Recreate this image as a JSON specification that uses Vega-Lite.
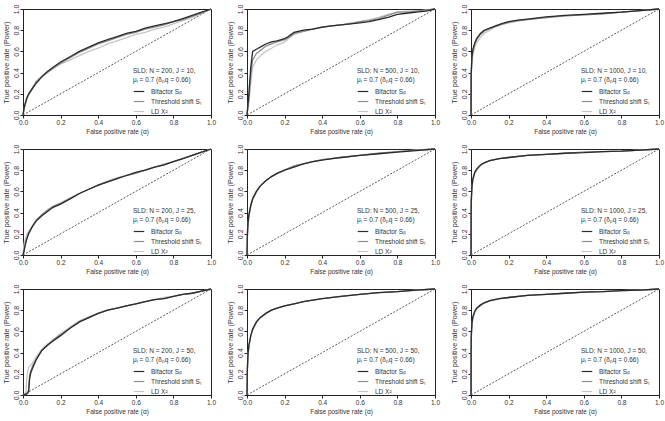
{
"$schema":"https://vega.github.io/schema/vega-lite/v6.json",
"padding":{"left":1,"top":3,"right":0,"bottom":2},
"background":"white",
"config":{
 "font":"Liberation Sans",
 "view":{"stroke":"#222222","strokeWidth":1},
 "axis":{"grid":false,"labelFontSize":6.5,"titleFontSize":6.5,"titleFontWeight":"normal","labelColor":"#333333","titleColor":"#333333","domainColor":"#222222","tickColor":"#222222","tickSize":3,"labelPadding":1,"labelFlush":false,"labelOverlap":false},
 "axisX":{"titlePadding":3},
 "axisY":{"labelAngle":270,"labelAlign":"center","labelBaseline":"bottom","titlePadding":2,"labelFontSize":7,"titleFontSize":7.2},
 "legend":{"orient":"none","legendX":110,"legendY":59,"titleFontSize":6.5,"titleFontWeight":"normal","titleColor":"#333333","titleLineHeight":9,"titlePadding":2,"labelFontSize":6.5,"labelColor":"#333333","symbolType":"stroke","symbolSize":110,"symbolStrokeWidth":1.2,"rowPadding":0,"labelOffset":6,"padding":0}
},
"datasets":{
"diag":[{"x":0,"y":0},{"x":1,"y":1}],
"roc":[
{"p":1,"s":"L","x":0,"y":0},{"p":1,"s":"L","x":0.005,"y":0.04},{"p":1,"s":"L","x":0.01,"y":0.08},{"p":1,"s":"L","x":0.02,"y":0.14},{"p":1,"s":"L","x":0.03,"y":0.19},{"p":1,"s":"L","x":0.05,"y":0.26},{"p":1,"s":"L","x":0.07,"y":0.32},{"p":1,"s":"L","x":0.1,"y":0.37},{"p":1,"s":"L","x":0.13,"y":0.41},{"p":1,"s":"L","x":0.16,"y":0.44},{"p":1,"s":"L","x":0.2,"y":0.48},{"p":1,"s":"L","x":0.25,"y":0.52},{"p":1,"s":"L","x":0.3,"y":0.56},{"p":1,"s":"L","x":0.35,"y":0.6},{"p":1,"s":"L","x":0.4,"y":0.63},{"p":1,"s":"L","x":0.45,"y":0.67},{"p":1,"s":"L","x":0.5,"y":0.7},{"p":1,"s":"L","x":0.55,"y":0.73},{"p":1,"s":"L","x":0.6,"y":0.76},{"p":1,"s":"L","x":0.65,"y":0.78},{"p":1,"s":"L","x":0.7,"y":0.81},{"p":1,"s":"L","x":0.75,"y":0.83},{"p":1,"s":"L","x":0.8,"y":0.86},{"p":1,"s":"L","x":0.85,"y":0.89},{"p":1,"s":"L","x":0.9,"y":0.92},{"p":1,"s":"L","x":0.95,"y":0.96},{"p":1,"s":"L","x":1,"y":1},
{"p":1,"s":"T","x":0,"y":0},{"p":1,"s":"T","x":0.005,"y":0.05},{"p":1,"s":"T","x":0.01,"y":0.09},{"p":1,"s":"T","x":0.02,"y":0.15},{"p":1,"s":"T","x":0.03,"y":0.19},{"p":1,"s":"T","x":0.05,"y":0.25},{"p":1,"s":"T","x":0.07,"y":0.31},{"p":1,"s":"T","x":0.1,"y":0.36},{"p":1,"s":"T","x":0.13,"y":0.4},{"p":1,"s":"T","x":0.16,"y":0.44},{"p":1,"s":"T","x":0.2,"y":0.49},{"p":1,"s":"T","x":0.25,"y":0.54},{"p":1,"s":"T","x":0.3,"y":0.59},{"p":1,"s":"T","x":0.35,"y":0.63},{"p":1,"s":"T","x":0.4,"y":0.67},{"p":1,"s":"T","x":0.45,"y":0.7},{"p":1,"s":"T","x":0.5,"y":0.73},{"p":1,"s":"T","x":0.55,"y":0.76},{"p":1,"s":"T","x":0.6,"y":0.78},{"p":1,"s":"T","x":0.65,"y":0.81},{"p":1,"s":"T","x":0.7,"y":0.83},{"p":1,"s":"T","x":0.75,"y":0.85},{"p":1,"s":"T","x":0.8,"y":0.88},{"p":1,"s":"T","x":0.85,"y":0.9},{"p":1,"s":"T","x":0.9,"y":0.93},{"p":1,"s":"T","x":0.95,"y":0.96},{"p":1,"s":"T","x":1,"y":1},
{"p":1,"s":"B","x":0,"y":0},{"p":1,"s":"B","x":0.005,"y":0.06},{"p":1,"s":"B","x":0.01,"y":0.1},{"p":1,"s":"B","x":0.02,"y":0.16},{"p":1,"s":"B","x":0.03,"y":0.2},{"p":1,"s":"B","x":0.05,"y":0.25},{"p":1,"s":"B","x":0.07,"y":0.3},{"p":1,"s":"B","x":0.1,"y":0.36},{"p":1,"s":"B","x":0.13,"y":0.41},{"p":1,"s":"B","x":0.16,"y":0.45},{"p":1,"s":"B","x":0.2,"y":0.5},{"p":1,"s":"B","x":0.25,"y":0.55},{"p":1,"s":"B","x":0.3,"y":0.6},{"p":1,"s":"B","x":0.35,"y":0.64},{"p":1,"s":"B","x":0.4,"y":0.68},{"p":1,"s":"B","x":0.45,"y":0.71},{"p":1,"s":"B","x":0.5,"y":0.74},{"p":1,"s":"B","x":0.55,"y":0.77},{"p":1,"s":"B","x":0.6,"y":0.79},{"p":1,"s":"B","x":0.65,"y":0.82},{"p":1,"s":"B","x":0.7,"y":0.84},{"p":1,"s":"B","x":0.75,"y":0.86},{"p":1,"s":"B","x":0.8,"y":0.88},{"p":1,"s":"B","x":0.85,"y":0.91},{"p":1,"s":"B","x":0.9,"y":0.94},{"p":1,"s":"B","x":0.95,"y":0.97},{"p":1,"s":"B","x":1,"y":1},

{"p":2,"s":"L","x":0,"y":0},{"p":2,"s":"L","x":0.01,"y":0.12},{"p":2,"s":"L","x":0.02,"y":0.3},{"p":2,"s":"L","x":0.03,"y":0.45},{"p":2,"s":"L","x":0.05,"y":0.52},{"p":2,"s":"L","x":0.08,"y":0.57},{"p":2,"s":"L","x":0.1,"y":0.6},{"p":2,"s":"L","x":0.13,"y":0.63},{"p":2,"s":"L","x":0.16,"y":0.66},{"p":2,"s":"L","x":0.2,"y":0.69},{"p":2,"s":"L","x":0.22,"y":0.72},{"p":2,"s":"L","x":0.25,"y":0.76},{"p":2,"s":"L","x":0.3,"y":0.79},{"p":2,"s":"L","x":0.35,"y":0.81},{"p":2,"s":"L","x":0.4,"y":0.83},{"p":2,"s":"L","x":0.45,"y":0.84},{"p":2,"s":"L","x":0.5,"y":0.85},{"p":2,"s":"L","x":0.55,"y":0.87},{"p":2,"s":"L","x":0.6,"y":0.88},{"p":2,"s":"L","x":0.65,"y":0.9},{"p":2,"s":"L","x":0.7,"y":0.92},{"p":2,"s":"L","x":0.75,"y":0.95},{"p":2,"s":"L","x":0.8,"y":0.97},{"p":2,"s":"L","x":0.85,"y":0.98},{"p":2,"s":"L","x":0.9,"y":0.98},{"p":2,"s":"L","x":0.95,"y":0.99},{"p":2,"s":"L","x":1,"y":1},
{"p":2,"s":"T","x":0,"y":0},{"p":2,"s":"T","x":0.01,"y":0.15},{"p":2,"s":"T","x":0.02,"y":0.38},{"p":2,"s":"T","x":0.03,"y":0.52},{"p":2,"s":"T","x":0.05,"y":0.58},{"p":2,"s":"T","x":0.08,"y":0.62},{"p":2,"s":"T","x":0.1,"y":0.65},{"p":2,"s":"T","x":0.13,"y":0.67},{"p":2,"s":"T","x":0.16,"y":0.69},{"p":2,"s":"T","x":0.2,"y":0.71},{"p":2,"s":"T","x":0.22,"y":0.73},{"p":2,"s":"T","x":0.25,"y":0.77},{"p":2,"s":"T","x":0.3,"y":0.79},{"p":2,"s":"T","x":0.35,"y":0.81},{"p":2,"s":"T","x":0.4,"y":0.83},{"p":2,"s":"T","x":0.45,"y":0.84},{"p":2,"s":"T","x":0.5,"y":0.85},{"p":2,"s":"T","x":0.55,"y":0.86},{"p":2,"s":"T","x":0.6,"y":0.88},{"p":2,"s":"T","x":0.65,"y":0.89},{"p":2,"s":"T","x":0.7,"y":0.91},{"p":2,"s":"T","x":0.75,"y":0.94},{"p":2,"s":"T","x":0.8,"y":0.97},{"p":2,"s":"T","x":0.85,"y":0.97},{"p":2,"s":"T","x":0.9,"y":0.98},{"p":2,"s":"T","x":0.95,"y":0.99},{"p":2,"s":"T","x":1,"y":1},
{"p":2,"s":"B","x":0,"y":0},{"p":2,"s":"B","x":0.01,"y":0.2},{"p":2,"s":"B","x":0.02,"y":0.45},{"p":2,"s":"B","x":0.03,"y":0.6},{"p":2,"s":"B","x":0.05,"y":0.62},{"p":2,"s":"B","x":0.08,"y":0.65},{"p":2,"s":"B","x":0.1,"y":0.67},{"p":2,"s":"B","x":0.13,"y":0.69},{"p":2,"s":"B","x":0.16,"y":0.7},{"p":2,"s":"B","x":0.2,"y":0.72},{"p":2,"s":"B","x":0.22,"y":0.74},{"p":2,"s":"B","x":0.25,"y":0.78},{"p":2,"s":"B","x":0.3,"y":0.8},{"p":2,"s":"B","x":0.35,"y":0.81},{"p":2,"s":"B","x":0.4,"y":0.83},{"p":2,"s":"B","x":0.45,"y":0.84},{"p":2,"s":"B","x":0.5,"y":0.85},{"p":2,"s":"B","x":0.55,"y":0.86},{"p":2,"s":"B","x":0.6,"y":0.87},{"p":2,"s":"B","x":0.65,"y":0.88},{"p":2,"s":"B","x":0.7,"y":0.9},{"p":2,"s":"B","x":0.75,"y":0.92},{"p":2,"s":"B","x":0.8,"y":0.95},{"p":2,"s":"B","x":0.85,"y":0.96},{"p":2,"s":"B","x":0.9,"y":0.97},{"p":2,"s":"B","x":0.95,"y":0.98},{"p":2,"s":"B","x":1,"y":1},

{"p":3,"s":"L","x":0,"y":0},{"p":3,"s":"L","x":0.001,"y":0.35},{"p":3,"s":"L","x":0.005,"y":0.5},{"p":3,"s":"L","x":0.01,"y":0.57},{"p":3,"s":"L","x":0.02,"y":0.64},{"p":3,"s":"L","x":0.03,"y":0.68},{"p":3,"s":"L","x":0.05,"y":0.73},{"p":3,"s":"L","x":0.07,"y":0.77},{"p":3,"s":"L","x":0.1,"y":0.8},{"p":3,"s":"L","x":0.13,"y":0.83},{"p":3,"s":"L","x":0.16,"y":0.85},{"p":3,"s":"L","x":0.2,"y":0.87},{"p":3,"s":"L","x":0.25,"y":0.885},{"p":3,"s":"L","x":0.3,"y":0.9},{"p":3,"s":"L","x":0.4,"y":0.92},{"p":3,"s":"L","x":0.5,"y":0.935},{"p":3,"s":"L","x":0.6,"y":0.945},{"p":3,"s":"L","x":0.7,"y":0.955},{"p":3,"s":"L","x":0.8,"y":0.97},{"p":3,"s":"L","x":0.9,"y":0.985},{"p":3,"s":"L","x":1,"y":1},
{"p":3,"s":"T","x":0,"y":0},{"p":3,"s":"T","x":0.001,"y":0.38},{"p":3,"s":"T","x":0.005,"y":0.53},{"p":3,"s":"T","x":0.01,"y":0.6},{"p":3,"s":"T","x":0.02,"y":0.67},{"p":3,"s":"T","x":0.03,"y":0.71},{"p":3,"s":"T","x":0.05,"y":0.76},{"p":3,"s":"T","x":0.07,"y":0.79},{"p":3,"s":"T","x":0.1,"y":0.815},{"p":3,"s":"T","x":0.13,"y":0.835},{"p":3,"s":"T","x":0.16,"y":0.855},{"p":3,"s":"T","x":0.2,"y":0.875},{"p":3,"s":"T","x":0.25,"y":0.89},{"p":3,"s":"T","x":0.3,"y":0.9},{"p":3,"s":"T","x":0.4,"y":0.92},{"p":3,"s":"T","x":0.5,"y":0.935},{"p":3,"s":"T","x":0.6,"y":0.945},{"p":3,"s":"T","x":0.7,"y":0.955},{"p":3,"s":"T","x":0.8,"y":0.97},{"p":3,"s":"T","x":0.9,"y":0.985},{"p":3,"s":"T","x":1,"y":1},
{"p":3,"s":"B","x":0,"y":0},{"p":3,"s":"B","x":0.001,"y":0.4},{"p":3,"s":"B","x":0.005,"y":0.55},{"p":3,"s":"B","x":0.01,"y":0.62},{"p":3,"s":"B","x":0.02,"y":0.68},{"p":3,"s":"B","x":0.03,"y":0.72},{"p":3,"s":"B","x":0.05,"y":0.77},{"p":3,"s":"B","x":0.07,"y":0.8},{"p":3,"s":"B","x":0.1,"y":0.82},{"p":3,"s":"B","x":0.13,"y":0.84},{"p":3,"s":"B","x":0.16,"y":0.86},{"p":3,"s":"B","x":0.2,"y":0.88},{"p":3,"s":"B","x":0.25,"y":0.895},{"p":3,"s":"B","x":0.3,"y":0.905},{"p":3,"s":"B","x":0.4,"y":0.925},{"p":3,"s":"B","x":0.5,"y":0.94},{"p":3,"s":"B","x":0.6,"y":0.95},{"p":3,"s":"B","x":0.7,"y":0.96},{"p":3,"s":"B","x":0.8,"y":0.97},{"p":3,"s":"B","x":0.9,"y":0.985},{"p":3,"s":"B","x":1,"y":1},

{"p":4,"s":"L","x":0,"y":0},{"p":4,"s":"L","x":0.005,"y":0.1},{"p":4,"s":"L","x":0.01,"y":0.14},{"p":4,"s":"L","x":0.02,"y":0.19},{"p":4,"s":"L","x":0.03,"y":0.22},{"p":4,"s":"L","x":0.05,"y":0.27},{"p":4,"s":"L","x":0.07,"y":0.32},{"p":4,"s":"L","x":0.1,"y":0.38},{"p":4,"s":"L","x":0.13,"y":0.43},{"p":4,"s":"L","x":0.16,"y":0.46},{"p":4,"s":"L","x":0.2,"y":0.49},{"p":4,"s":"L","x":0.25,"y":0.54},{"p":4,"s":"L","x":0.3,"y":0.58},{"p":4,"s":"L","x":0.35,"y":0.62},{"p":4,"s":"L","x":0.4,"y":0.66},{"p":4,"s":"L","x":0.45,"y":0.7},{"p":4,"s":"L","x":0.5,"y":0.73},{"p":4,"s":"L","x":0.55,"y":0.75},{"p":4,"s":"L","x":0.6,"y":0.78},{"p":4,"s":"L","x":0.65,"y":0.8},{"p":4,"s":"L","x":0.7,"y":0.83},{"p":4,"s":"L","x":0.75,"y":0.86},{"p":4,"s":"L","x":0.8,"y":0.88},{"p":4,"s":"L","x":0.85,"y":0.91},{"p":4,"s":"L","x":0.9,"y":0.94},{"p":4,"s":"L","x":0.95,"y":0.97},{"p":4,"s":"L","x":1,"y":1},
{"p":4,"s":"T","x":0,"y":0},{"p":4,"s":"T","x":0.005,"y":0.04},{"p":4,"s":"T","x":0.01,"y":0.09},{"p":4,"s":"T","x":0.02,"y":0.16},{"p":4,"s":"T","x":0.03,"y":0.21},{"p":4,"s":"T","x":0.05,"y":0.27},{"p":4,"s":"T","x":0.07,"y":0.33},{"p":4,"s":"T","x":0.1,"y":0.38},{"p":4,"s":"T","x":0.13,"y":0.42},{"p":4,"s":"T","x":0.16,"y":0.46},{"p":4,"s":"T","x":0.2,"y":0.49},{"p":4,"s":"T","x":0.25,"y":0.53},{"p":4,"s":"T","x":0.3,"y":0.58},{"p":4,"s":"T","x":0.35,"y":0.62},{"p":4,"s":"T","x":0.4,"y":0.66},{"p":4,"s":"T","x":0.45,"y":0.69},{"p":4,"s":"T","x":0.5,"y":0.72},{"p":4,"s":"T","x":0.55,"y":0.75},{"p":4,"s":"T","x":0.6,"y":0.77},{"p":4,"s":"T","x":0.65,"y":0.8},{"p":4,"s":"T","x":0.7,"y":0.83},{"p":4,"s":"T","x":0.75,"y":0.85},{"p":4,"s":"T","x":0.8,"y":0.88},{"p":4,"s":"T","x":0.85,"y":0.91},{"p":4,"s":"T","x":0.9,"y":0.94},{"p":4,"s":"T","x":0.95,"y":0.97},{"p":4,"s":"T","x":1,"y":1},
{"p":4,"s":"B","x":0,"y":0},{"p":4,"s":"B","x":0.005,"y":0.03},{"p":4,"s":"B","x":0.01,"y":0.08},{"p":4,"s":"B","x":0.02,"y":0.15},{"p":4,"s":"B","x":0.03,"y":0.2},{"p":4,"s":"B","x":0.05,"y":0.27},{"p":4,"s":"B","x":0.07,"y":0.32},{"p":4,"s":"B","x":0.1,"y":0.37},{"p":4,"s":"B","x":0.13,"y":0.41},{"p":4,"s":"B","x":0.16,"y":0.45},{"p":4,"s":"B","x":0.2,"y":0.48},{"p":4,"s":"B","x":0.25,"y":0.53},{"p":4,"s":"B","x":0.3,"y":0.58},{"p":4,"s":"B","x":0.35,"y":0.62},{"p":4,"s":"B","x":0.4,"y":0.66},{"p":4,"s":"B","x":0.45,"y":0.69},{"p":4,"s":"B","x":0.5,"y":0.72},{"p":4,"s":"B","x":0.55,"y":0.75},{"p":4,"s":"B","x":0.6,"y":0.78},{"p":4,"s":"B","x":0.65,"y":0.8},{"p":4,"s":"B","x":0.7,"y":0.83},{"p":4,"s":"B","x":0.75,"y":0.85},{"p":4,"s":"B","x":0.8,"y":0.88},{"p":4,"s":"B","x":0.85,"y":0.91},{"p":4,"s":"B","x":0.9,"y":0.94},{"p":4,"s":"B","x":0.95,"y":0.97},{"p":4,"s":"B","x":1,"y":1},

{"p":5,"s":"L","x":0,"y":0},{"p":5,"s":"L","x":0.002,"y":0.15},{"p":5,"s":"L","x":0.005,"y":0.26},{"p":5,"s":"L","x":0.01,"y":0.35},{"p":5,"s":"L","x":0.02,"y":0.45},{"p":5,"s":"L","x":0.03,"y":0.52},{"p":5,"s":"L","x":0.05,"y":0.59},{"p":5,"s":"L","x":0.07,"y":0.65},{"p":5,"s":"L","x":0.1,"y":0.7},{"p":5,"s":"L","x":0.13,"y":0.74},{"p":5,"s":"L","x":0.16,"y":0.77},{"p":5,"s":"L","x":0.2,"y":0.8},{"p":5,"s":"L","x":0.25,"y":0.84},{"p":5,"s":"L","x":0.3,"y":0.86},{"p":5,"s":"L","x":0.35,"y":0.88},{"p":5,"s":"L","x":0.4,"y":0.9},{"p":5,"s":"L","x":0.5,"y":0.92},{"p":5,"s":"L","x":0.6,"y":0.94},{"p":5,"s":"L","x":0.7,"y":0.96},{"p":5,"s":"L","x":0.8,"y":0.975},{"p":5,"s":"L","x":0.9,"y":0.99},{"p":5,"s":"L","x":1,"y":1},
{"p":5,"s":"T","x":0,"y":0},{"p":5,"s":"T","x":0.002,"y":0.18},{"p":5,"s":"T","x":0.005,"y":0.28},{"p":5,"s":"T","x":0.01,"y":0.37},{"p":5,"s":"T","x":0.02,"y":0.46},{"p":5,"s":"T","x":0.03,"y":0.53},{"p":5,"s":"T","x":0.05,"y":0.6},{"p":5,"s":"T","x":0.07,"y":0.65},{"p":5,"s":"T","x":0.1,"y":0.7},{"p":5,"s":"T","x":0.13,"y":0.74},{"p":5,"s":"T","x":0.16,"y":0.77},{"p":5,"s":"T","x":0.2,"y":0.8},{"p":5,"s":"T","x":0.25,"y":0.84},{"p":5,"s":"T","x":0.3,"y":0.86},{"p":5,"s":"T","x":0.35,"y":0.88},{"p":5,"s":"T","x":0.4,"y":0.9},{"p":5,"s":"T","x":0.5,"y":0.92},{"p":5,"s":"T","x":0.6,"y":0.94},{"p":5,"s":"T","x":0.7,"y":0.96},{"p":5,"s":"T","x":0.8,"y":0.975},{"p":5,"s":"T","x":0.9,"y":0.99},{"p":5,"s":"T","x":1,"y":1},
{"p":5,"s":"B","x":0,"y":0},{"p":5,"s":"B","x":0.002,"y":0.2},{"p":5,"s":"B","x":0.005,"y":0.3},{"p":5,"s":"B","x":0.01,"y":0.38},{"p":5,"s":"B","x":0.02,"y":0.47},{"p":5,"s":"B","x":0.03,"y":0.53},{"p":5,"s":"B","x":0.05,"y":0.6},{"p":5,"s":"B","x":0.07,"y":0.65},{"p":5,"s":"B","x":0.1,"y":0.7},{"p":5,"s":"B","x":0.13,"y":0.74},{"p":5,"s":"B","x":0.16,"y":0.77},{"p":5,"s":"B","x":0.2,"y":0.8},{"p":5,"s":"B","x":0.25,"y":0.83},{"p":5,"s":"B","x":0.3,"y":0.86},{"p":5,"s":"B","x":0.35,"y":0.88},{"p":5,"s":"B","x":0.4,"y":0.895},{"p":5,"s":"B","x":0.5,"y":0.92},{"p":5,"s":"B","x":0.6,"y":0.94},{"p":5,"s":"B","x":0.7,"y":0.955},{"p":5,"s":"B","x":0.8,"y":0.97},{"p":5,"s":"B","x":0.9,"y":0.985},{"p":5,"s":"B","x":1,"y":1},

{"p":6,"s":"L","x":0,"y":0},{"p":6,"s":"L","x":0.001,"y":0.45},{"p":6,"s":"L","x":0.005,"y":0.62},{"p":6,"s":"L","x":0.01,"y":0.7},{"p":6,"s":"L","x":0.02,"y":0.77},{"p":6,"s":"L","x":0.03,"y":0.8},{"p":6,"s":"L","x":0.05,"y":0.84},{"p":6,"s":"L","x":0.07,"y":0.87},{"p":6,"s":"L","x":0.1,"y":0.89},{"p":6,"s":"L","x":0.15,"y":0.91},{"p":6,"s":"L","x":0.2,"y":0.92},{"p":6,"s":"L","x":0.3,"y":0.94},{"p":6,"s":"L","x":0.4,"y":0.95},{"p":6,"s":"L","x":0.5,"y":0.96},{"p":6,"s":"L","x":0.6,"y":0.97},{"p":6,"s":"L","x":0.7,"y":0.975},{"p":6,"s":"L","x":0.8,"y":0.98},{"p":6,"s":"L","x":0.9,"y":0.99},{"p":6,"s":"L","x":1,"y":1},
{"p":6,"s":"T","x":0,"y":0},{"p":6,"s":"T","x":0.001,"y":0.48},{"p":6,"s":"T","x":0.005,"y":0.64},{"p":6,"s":"T","x":0.01,"y":0.71},{"p":6,"s":"T","x":0.02,"y":0.775},{"p":6,"s":"T","x":0.03,"y":0.805},{"p":6,"s":"T","x":0.05,"y":0.845},{"p":6,"s":"T","x":0.07,"y":0.87},{"p":6,"s":"T","x":0.1,"y":0.89},{"p":6,"s":"T","x":0.15,"y":0.91},{"p":6,"s":"T","x":0.2,"y":0.92},{"p":6,"s":"T","x":0.3,"y":0.94},{"p":6,"s":"T","x":0.4,"y":0.95},{"p":6,"s":"T","x":0.5,"y":0.96},{"p":6,"s":"T","x":0.6,"y":0.97},{"p":6,"s":"T","x":0.7,"y":0.975},{"p":6,"s":"T","x":0.8,"y":0.98},{"p":6,"s":"T","x":0.9,"y":0.99},{"p":6,"s":"T","x":1,"y":1},
{"p":6,"s":"B","x":0,"y":0},{"p":6,"s":"B","x":0.001,"y":0.5},{"p":6,"s":"B","x":0.005,"y":0.65},{"p":6,"s":"B","x":0.01,"y":0.72},{"p":6,"s":"B","x":0.02,"y":0.78},{"p":6,"s":"B","x":0.03,"y":0.81},{"p":6,"s":"B","x":0.05,"y":0.85},{"p":6,"s":"B","x":0.07,"y":0.87},{"p":6,"s":"B","x":0.1,"y":0.89},{"p":6,"s":"B","x":0.15,"y":0.91},{"p":6,"s":"B","x":0.2,"y":0.92},{"p":6,"s":"B","x":0.3,"y":0.94},{"p":6,"s":"B","x":0.4,"y":0.95},{"p":6,"s":"B","x":0.5,"y":0.96},{"p":6,"s":"B","x":0.6,"y":0.965},{"p":6,"s":"B","x":0.7,"y":0.975},{"p":6,"s":"B","x":0.8,"y":0.98},{"p":6,"s":"B","x":0.9,"y":0.99},{"p":6,"s":"B","x":1,"y":1},

{"p":7,"s":"L","x":0,"y":0},{"p":7,"s":"L","x":0.015,"y":0.02},{"p":7,"s":"L","x":0.02,"y":0.15},{"p":7,"s":"L","x":0.025,"y":0.22},{"p":7,"s":"L","x":0.03,"y":0.26},{"p":7,"s":"L","x":0.04,"y":0.28},{"p":7,"s":"L","x":0.05,"y":0.3},{"p":7,"s":"L","x":0.07,"y":0.36},{"p":7,"s":"L","x":0.1,"y":0.43},{"p":7,"s":"L","x":0.13,"y":0.48},{"p":7,"s":"L","x":0.16,"y":0.52},{"p":7,"s":"L","x":0.2,"y":0.58},{"p":7,"s":"L","x":0.25,"y":0.64},{"p":7,"s":"L","x":0.3,"y":0.7},{"p":7,"s":"L","x":0.35,"y":0.74},{"p":7,"s":"L","x":0.4,"y":0.77},{"p":7,"s":"L","x":0.45,"y":0.8},{"p":7,"s":"L","x":0.5,"y":0.82},{"p":7,"s":"L","x":0.55,"y":0.84},{"p":7,"s":"L","x":0.6,"y":0.86},{"p":7,"s":"L","x":0.65,"y":0.88},{"p":7,"s":"L","x":0.7,"y":0.9},{"p":7,"s":"L","x":0.75,"y":0.92},{"p":7,"s":"L","x":0.8,"y":0.93},{"p":7,"s":"L","x":0.85,"y":0.95},{"p":7,"s":"L","x":0.9,"y":0.96},{"p":7,"s":"L","x":0.95,"y":0.98},{"p":7,"s":"L","x":1,"y":1},
{"p":7,"s":"T","x":0,"y":0},{"p":7,"s":"T","x":0.02,"y":0.01},{"p":7,"s":"T","x":0.03,"y":0.05},{"p":7,"s":"T","x":0.035,"y":0.18},{"p":7,"s":"T","x":0.04,"y":0.22},{"p":7,"s":"T","x":0.05,"y":0.27},{"p":7,"s":"T","x":0.07,"y":0.34},{"p":7,"s":"T","x":0.1,"y":0.42},{"p":7,"s":"T","x":0.13,"y":0.47},{"p":7,"s":"T","x":0.16,"y":0.52},{"p":7,"s":"T","x":0.2,"y":0.57},{"p":7,"s":"T","x":0.25,"y":0.63},{"p":7,"s":"T","x":0.3,"y":0.69},{"p":7,"s":"T","x":0.35,"y":0.73},{"p":7,"s":"T","x":0.4,"y":0.77},{"p":7,"s":"T","x":0.45,"y":0.8},{"p":7,"s":"T","x":0.5,"y":0.82},{"p":7,"s":"T","x":0.55,"y":0.84},{"p":7,"s":"T","x":0.6,"y":0.86},{"p":7,"s":"T","x":0.65,"y":0.88},{"p":7,"s":"T","x":0.7,"y":0.9},{"p":7,"s":"T","x":0.75,"y":0.91},{"p":7,"s":"T","x":0.8,"y":0.93},{"p":7,"s":"T","x":0.85,"y":0.95},{"p":7,"s":"T","x":0.9,"y":0.96},{"p":7,"s":"T","x":0.95,"y":0.98},{"p":7,"s":"T","x":1,"y":1},
{"p":7,"s":"B","x":0,"y":0},{"p":7,"s":"B","x":0.02,"y":0.01},{"p":7,"s":"B","x":0.03,"y":0.03},{"p":7,"s":"B","x":0.035,"y":0.15},{"p":7,"s":"B","x":0.04,"y":0.2},{"p":7,"s":"B","x":0.05,"y":0.25},{"p":7,"s":"B","x":0.07,"y":0.33},{"p":7,"s":"B","x":0.1,"y":0.42},{"p":7,"s":"B","x":0.13,"y":0.47},{"p":7,"s":"B","x":0.16,"y":0.51},{"p":7,"s":"B","x":0.2,"y":0.56},{"p":7,"s":"B","x":0.25,"y":0.63},{"p":7,"s":"B","x":0.3,"y":0.69},{"p":7,"s":"B","x":0.35,"y":0.73},{"p":7,"s":"B","x":0.4,"y":0.77},{"p":7,"s":"B","x":0.45,"y":0.8},{"p":7,"s":"B","x":0.5,"y":0.82},{"p":7,"s":"B","x":0.55,"y":0.84},{"p":7,"s":"B","x":0.6,"y":0.86},{"p":7,"s":"B","x":0.65,"y":0.88},{"p":7,"s":"B","x":0.7,"y":0.9},{"p":7,"s":"B","x":0.75,"y":0.91},{"p":7,"s":"B","x":0.8,"y":0.93},{"p":7,"s":"B","x":0.85,"y":0.95},{"p":7,"s":"B","x":0.9,"y":0.96},{"p":7,"s":"B","x":0.95,"y":0.98},{"p":7,"s":"B","x":1,"y":1},

{"p":8,"s":"L","x":0,"y":0},{"p":8,"s":"L","x":0.002,"y":0.22},{"p":8,"s":"L","x":0.005,"y":0.35},{"p":8,"s":"L","x":0.01,"y":0.45},{"p":8,"s":"L","x":0.02,"y":0.55},{"p":8,"s":"L","x":0.03,"y":0.61},{"p":8,"s":"L","x":0.05,"y":0.68},{"p":8,"s":"L","x":0.07,"y":0.73},{"p":8,"s":"L","x":0.1,"y":0.77},{"p":8,"s":"L","x":0.13,"y":0.8},{"p":8,"s":"L","x":0.16,"y":0.82},{"p":8,"s":"L","x":0.2,"y":0.84},{"p":8,"s":"L","x":0.25,"y":0.86},{"p":8,"s":"L","x":0.3,"y":0.88},{"p":8,"s":"L","x":0.4,"y":0.91},{"p":8,"s":"L","x":0.5,"y":0.93},{"p":8,"s":"L","x":0.6,"y":0.95},{"p":8,"s":"L","x":0.7,"y":0.965},{"p":8,"s":"L","x":0.8,"y":0.975},{"p":8,"s":"L","x":0.9,"y":0.99},{"p":8,"s":"L","x":1,"y":1},
{"p":8,"s":"T","x":0,"y":0},{"p":8,"s":"T","x":0.002,"y":0.24},{"p":8,"s":"T","x":0.005,"y":0.37},{"p":8,"s":"T","x":0.01,"y":0.46},{"p":8,"s":"T","x":0.02,"y":0.56},{"p":8,"s":"T","x":0.03,"y":0.62},{"p":8,"s":"T","x":0.05,"y":0.69},{"p":8,"s":"T","x":0.07,"y":0.73},{"p":8,"s":"T","x":0.1,"y":0.77},{"p":8,"s":"T","x":0.13,"y":0.8},{"p":8,"s":"T","x":0.16,"y":0.82},{"p":8,"s":"T","x":0.2,"y":0.84},{"p":8,"s":"T","x":0.25,"y":0.86},{"p":8,"s":"T","x":0.3,"y":0.88},{"p":8,"s":"T","x":0.4,"y":0.91},{"p":8,"s":"T","x":0.5,"y":0.93},{"p":8,"s":"T","x":0.6,"y":0.95},{"p":8,"s":"T","x":0.7,"y":0.965},{"p":8,"s":"T","x":0.8,"y":0.975},{"p":8,"s":"T","x":0.9,"y":0.99},{"p":8,"s":"T","x":1,"y":1},
{"p":8,"s":"B","x":0,"y":0},{"p":8,"s":"B","x":0.002,"y":0.25},{"p":8,"s":"B","x":0.005,"y":0.38},{"p":8,"s":"B","x":0.01,"y":0.47},{"p":8,"s":"B","x":0.02,"y":0.56},{"p":8,"s":"B","x":0.03,"y":0.62},{"p":8,"s":"B","x":0.05,"y":0.69},{"p":8,"s":"B","x":0.07,"y":0.73},{"p":8,"s":"B","x":0.1,"y":0.77},{"p":8,"s":"B","x":0.13,"y":0.8},{"p":8,"s":"B","x":0.16,"y":0.82},{"p":8,"s":"B","x":0.2,"y":0.84},{"p":8,"s":"B","x":0.25,"y":0.86},{"p":8,"s":"B","x":0.3,"y":0.88},{"p":8,"s":"B","x":0.4,"y":0.91},{"p":8,"s":"B","x":0.5,"y":0.93},{"p":8,"s":"B","x":0.6,"y":0.95},{"p":8,"s":"B","x":0.7,"y":0.965},{"p":8,"s":"B","x":0.8,"y":0.975},{"p":8,"s":"B","x":0.9,"y":0.99},{"p":8,"s":"B","x":1,"y":1},

{"p":9,"s":"L","x":0,"y":0},{"p":9,"s":"L","x":0.001,"y":0.5},{"p":9,"s":"L","x":0.005,"y":0.65},{"p":9,"s":"L","x":0.01,"y":0.72},{"p":9,"s":"L","x":0.02,"y":0.78},{"p":9,"s":"L","x":0.03,"y":0.81},{"p":9,"s":"L","x":0.05,"y":0.84},{"p":9,"s":"L","x":0.07,"y":0.865},{"p":9,"s":"L","x":0.1,"y":0.885},{"p":9,"s":"L","x":0.15,"y":0.905},{"p":9,"s":"L","x":0.2,"y":0.92},{"p":9,"s":"L","x":0.3,"y":0.94},{"p":9,"s":"L","x":0.4,"y":0.95},{"p":9,"s":"L","x":0.5,"y":0.96},{"p":9,"s":"L","x":0.6,"y":0.97},{"p":9,"s":"L","x":0.7,"y":0.975},{"p":9,"s":"L","x":0.8,"y":0.985},{"p":9,"s":"L","x":0.9,"y":0.99},{"p":9,"s":"L","x":1,"y":1},
{"p":9,"s":"T","x":0,"y":0},{"p":9,"s":"T","x":0.001,"y":0.53},{"p":9,"s":"T","x":0.005,"y":0.67},{"p":9,"s":"T","x":0.01,"y":0.73},{"p":9,"s":"T","x":0.02,"y":0.785},{"p":9,"s":"T","x":0.03,"y":0.815},{"p":9,"s":"T","x":0.05,"y":0.845},{"p":9,"s":"T","x":0.07,"y":0.87},{"p":9,"s":"T","x":0.1,"y":0.89},{"p":9,"s":"T","x":0.15,"y":0.91},{"p":9,"s":"T","x":0.2,"y":0.92},{"p":9,"s":"T","x":0.3,"y":0.94},{"p":9,"s":"T","x":0.4,"y":0.95},{"p":9,"s":"T","x":0.5,"y":0.96},{"p":9,"s":"T","x":0.6,"y":0.97},{"p":9,"s":"T","x":0.7,"y":0.975},{"p":9,"s":"T","x":0.8,"y":0.985},{"p":9,"s":"T","x":0.9,"y":0.99},{"p":9,"s":"T","x":1,"y":1},
{"p":9,"s":"B","x":0,"y":0},{"p":9,"s":"B","x":0.001,"y":0.55},{"p":9,"s":"B","x":0.005,"y":0.68},{"p":9,"s":"B","x":0.01,"y":0.74},{"p":9,"s":"B","x":0.02,"y":0.79},{"p":9,"s":"B","x":0.03,"y":0.82},{"p":9,"s":"B","x":0.05,"y":0.85},{"p":9,"s":"B","x":0.07,"y":0.87},{"p":9,"s":"B","x":0.1,"y":0.89},{"p":9,"s":"B","x":0.15,"y":0.91},{"p":9,"s":"B","x":0.2,"y":0.92},{"p":9,"s":"B","x":0.3,"y":0.94},{"p":9,"s":"B","x":0.4,"y":0.95},{"p":9,"s":"B","x":0.5,"y":0.96},{"p":9,"s":"B","x":0.6,"y":0.97},{"p":9,"s":"B","x":0.7,"y":0.975},{"p":9,"s":"B","x":0.8,"y":0.985},{"p":9,"s":"B","x":0.9,"y":0.99},{"p":9,"s":"B","x":1,"y":1}
]},
"resolve":{"scale":{"color":"independent"},"legend":{"color":"independent"}},
"spacing":7,
"vconcat":[
{"spacing":8,"resolve":{"scale":{"color":"independent"},"legend":{"color":"independent"}},"hconcat":[
{"width":188,"height":106,"layer":[
{"data":{"name":"diag"},"mark":{"type":"line","color":"#333333","strokeWidth":0.8,"strokeDash":[2,1.5]},"encoding":{"x":{"field":"x","type":"quantitative","scale":{"domain":[0,1]},"title":"False positive rate (α)","axis":{"values":[0,0.2,0.4,0.6,0.8,1],"format":".1f"}},"y":{"field":"y","type":"quantitative","scale":{"domain":[0,1]},"title":"True positive rate (Power)","axis":{"values":[0,0.2,0.4,0.6,0.8,1],"format":".1f"}}}},
{"data":{"name":"roc"},"transform":[{"filter":"datum.p == 1"}],"mark":{"type":"line","strokeWidth":1.3},"encoding":{"x":{"field":"x","type":"quantitative","title":"False positive rate (α)","axis":{"values":[0,0.2,0.4,0.6,0.8,1],"format":".1f"}},"y":{"field":"y","type":"quantitative","title":"True positive rate (Power)","axis":{"values":[0,0.2,0.4,0.6,0.8,1],"format":".1f"}},"color":{"field":"s","type":"nominal","scale":{"domain":["B","T","L"],"range":["#2a2a2a","#8c8c8c","#c6c6c6"]},"legend":{"title":["SLD: N = 200, J = 10,"," μₗ = 0.7 (δₚq = 0.66)"],"labelExpr":"datum.value == 'B' ? 'Bifactor Sᵦ' : datum.value == 'T' ? 'Threshold shift Sₜ' : 'LD X²'"}}}}
]},
{"width":188,"height":106,"layer":[
{"data":{"name":"diag"},"mark":{"type":"line","color":"#333333","strokeWidth":0.8,"strokeDash":[2,1.5]},"encoding":{"x":{"field":"x","type":"quantitative","scale":{"domain":[0,1]},"title":"False positive rate (α)","axis":{"values":[0,0.2,0.4,0.6,0.8,1],"format":".1f"}},"y":{"field":"y","type":"quantitative","scale":{"domain":[0,1]},"title":"True positive rate (Power)","axis":{"values":[0,0.2,0.4,0.6,0.8,1],"format":".1f"}}}},
{"data":{"name":"roc"},"transform":[{"filter":"datum.p == 2"}],"mark":{"type":"line","strokeWidth":1.3},"encoding":{"x":{"field":"x","type":"quantitative","title":"False positive rate (α)","axis":{"values":[0,0.2,0.4,0.6,0.8,1],"format":".1f"}},"y":{"field":"y","type":"quantitative","title":"True positive rate (Power)","axis":{"values":[0,0.2,0.4,0.6,0.8,1],"format":".1f"}},"color":{"field":"s","type":"nominal","scale":{"domain":["B","T","L"],"range":["#2a2a2a","#8c8c8c","#c6c6c6"]},"legend":{"title":["SLD: N = 500, J = 10,"," μₗ = 0.7 (δₚq = 0.66)"],"labelExpr":"datum.value == 'B' ? 'Bifactor Sᵦ' : datum.value == 'T' ? 'Threshold shift Sₜ' : 'LD X²'"}}}}
]},
{"width":188,"height":106,"layer":[
{"data":{"name":"diag"},"mark":{"type":"line","color":"#333333","strokeWidth":0.8,"strokeDash":[2,1.5]},"encoding":{"x":{"field":"x","type":"quantitative","scale":{"domain":[0,1]},"title":"False positive rate (α)","axis":{"values":[0,0.2,0.4,0.6,0.8,1],"format":".1f"}},"y":{"field":"y","type":"quantitative","scale":{"domain":[0,1]},"title":"True positive rate (Power)","axis":{"values":[0,0.2,0.4,0.6,0.8,1],"format":".1f"}}}},
{"data":{"name":"roc"},"transform":[{"filter":"datum.p == 3"}],"mark":{"type":"line","strokeWidth":1.3},"encoding":{"x":{"field":"x","type":"quantitative","title":"False positive rate (α)","axis":{"values":[0,0.2,0.4,0.6,0.8,1],"format":".1f"}},"y":{"field":"y","type":"quantitative","title":"True positive rate (Power)","axis":{"values":[0,0.2,0.4,0.6,0.8,1],"format":".1f"}},"color":{"field":"s","type":"nominal","scale":{"domain":["B","T","L"],"range":["#2a2a2a","#8c8c8c","#c6c6c6"]},"legend":{"title":["SLD: N = 1000, J = 10,"," μₗ = 0.7 (δₚq = 0.66)"],"labelExpr":"datum.value == 'B' ? 'Bifactor Sᵦ' : datum.value == 'T' ? 'Threshold shift Sₜ' : 'LD X²'"}}}}
]}
]},
{"spacing":8,"resolve":{"scale":{"color":"independent"},"legend":{"color":"independent"}},"hconcat":[
{"width":188,"height":106,"layer":[
{"data":{"name":"diag"},"mark":{"type":"line","color":"#333333","strokeWidth":0.8,"strokeDash":[2,1.5]},"encoding":{"x":{"field":"x","type":"quantitative","scale":{"domain":[0,1]},"title":"False positive rate (α)","axis":{"values":[0,0.2,0.4,0.6,0.8,1],"format":".1f"}},"y":{"field":"y","type":"quantitative","scale":{"domain":[0,1]},"title":"True positive rate (Power)","axis":{"values":[0,0.2,0.4,0.6,0.8,1],"format":".1f"}}}},
{"data":{"name":"roc"},"transform":[{"filter":"datum.p == 4"}],"mark":{"type":"line","strokeWidth":1.3},"encoding":{"x":{"field":"x","type":"quantitative","title":"False positive rate (α)","axis":{"values":[0,0.2,0.4,0.6,0.8,1],"format":".1f"}},"y":{"field":"y","type":"quantitative","title":"True positive rate (Power)","axis":{"values":[0,0.2,0.4,0.6,0.8,1],"format":".1f"}},"color":{"field":"s","type":"nominal","scale":{"domain":["B","T","L"],"range":["#2a2a2a","#8c8c8c","#c6c6c6"]},"legend":{"title":["SLD: N = 200, J = 25,"," μₗ = 0.7 (δₚq = 0.66)"],"labelExpr":"datum.value == 'B' ? 'Bifactor Sᵦ' : datum.value == 'T' ? 'Threshold shift Sₜ' : 'LD X²'"}}}}
]},
{"width":188,"height":106,"layer":[
{"data":{"name":"diag"},"mark":{"type":"line","color":"#333333","strokeWidth":0.8,"strokeDash":[2,1.5]},"encoding":{"x":{"field":"x","type":"quantitative","scale":{"domain":[0,1]},"title":"False positive rate (α)","axis":{"values":[0,0.2,0.4,0.6,0.8,1],"format":".1f"}},"y":{"field":"y","type":"quantitative","scale":{"domain":[0,1]},"title":"True positive rate (Power)","axis":{"values":[0,0.2,0.4,0.6,0.8,1],"format":".1f"}}}},
{"data":{"name":"roc"},"transform":[{"filter":"datum.p == 5"}],"mark":{"type":"line","strokeWidth":1.3},"encoding":{"x":{"field":"x","type":"quantitative","title":"False positive rate (α)","axis":{"values":[0,0.2,0.4,0.6,0.8,1],"format":".1f"}},"y":{"field":"y","type":"quantitative","title":"True positive rate (Power)","axis":{"values":[0,0.2,0.4,0.6,0.8,1],"format":".1f"}},"color":{"field":"s","type":"nominal","scale":{"domain":["B","T","L"],"range":["#2a2a2a","#8c8c8c","#c6c6c6"]},"legend":{"title":["SLD: N = 500, J = 25,"," μₗ = 0.7 (δₚq = 0.66)"],"labelExpr":"datum.value == 'B' ? 'Bifactor Sᵦ' : datum.value == 'T' ? 'Threshold shift Sₜ' : 'LD X²'"}}}}
]},
{"width":188,"height":106,"layer":[
{"data":{"name":"diag"},"mark":{"type":"line","color":"#333333","strokeWidth":0.8,"strokeDash":[2,1.5]},"encoding":{"x":{"field":"x","type":"quantitative","scale":{"domain":[0,1]},"title":"False positive rate (α)","axis":{"values":[0,0.2,0.4,0.6,0.8,1],"format":".1f"}},"y":{"field":"y","type":"quantitative","scale":{"domain":[0,1]},"title":"True positive rate (Power)","axis":{"values":[0,0.2,0.4,0.6,0.8,1],"format":".1f"}}}},
{"data":{"name":"roc"},"transform":[{"filter":"datum.p == 6"}],"mark":{"type":"line","strokeWidth":1.3},"encoding":{"x":{"field":"x","type":"quantitative","title":"False positive rate (α)","axis":{"values":[0,0.2,0.4,0.6,0.8,1],"format":".1f"}},"y":{"field":"y","type":"quantitative","title":"True positive rate (Power)","axis":{"values":[0,0.2,0.4,0.6,0.8,1],"format":".1f"}},"color":{"field":"s","type":"nominal","scale":{"domain":["B","T","L"],"range":["#2a2a2a","#8c8c8c","#c6c6c6"]},"legend":{"title":["SLD: N = 1000, J = 25,"," μₗ = 0.7 (δₚq = 0.66)"],"labelExpr":"datum.value == 'B' ? 'Bifactor Sᵦ' : datum.value == 'T' ? 'Threshold shift Sₜ' : 'LD X²'"}}}}
]}
]},
{"spacing":8,"resolve":{"scale":{"color":"independent"},"legend":{"color":"independent"}},"hconcat":[
{"width":188,"height":106,"layer":[
{"data":{"name":"diag"},"mark":{"type":"line","color":"#333333","strokeWidth":0.8,"strokeDash":[2,1.5]},"encoding":{"x":{"field":"x","type":"quantitative","scale":{"domain":[0,1]},"title":"False positive rate (α)","axis":{"values":[0,0.2,0.4,0.6,0.8,1],"format":".1f"}},"y":{"field":"y","type":"quantitative","scale":{"domain":[0,1]},"title":"True positive rate (Power)","axis":{"values":[0,0.2,0.4,0.6,0.8,1],"format":".1f"}}}},
{"data":{"name":"roc"},"transform":[{"filter":"datum.p == 7"}],"mark":{"type":"line","strokeWidth":1.3},"encoding":{"x":{"field":"x","type":"quantitative","title":"False positive rate (α)","axis":{"values":[0,0.2,0.4,0.6,0.8,1],"format":".1f"}},"y":{"field":"y","type":"quantitative","title":"True positive rate (Power)","axis":{"values":[0,0.2,0.4,0.6,0.8,1],"format":".1f"}},"color":{"field":"s","type":"nominal","scale":{"domain":["B","T","L"],"range":["#2a2a2a","#8c8c8c","#c6c6c6"]},"legend":{"title":["SLD: N = 200, J = 50,"," μₗ = 0.7 (δₚq = 0.66)"],"labelExpr":"datum.value == 'B' ? 'Bifactor Sᵦ' : datum.value == 'T' ? 'Threshold shift Sₜ' : 'LD X²'"}}}}
]},
{"width":188,"height":106,"layer":[
{"data":{"name":"diag"},"mark":{"type":"line","color":"#333333","strokeWidth":0.8,"strokeDash":[2,1.5]},"encoding":{"x":{"field":"x","type":"quantitative","scale":{"domain":[0,1]},"title":"False positive rate (α)","axis":{"values":[0,0.2,0.4,0.6,0.8,1],"format":".1f"}},"y":{"field":"y","type":"quantitative","scale":{"domain":[0,1]},"title":"True positive rate (Power)","axis":{"values":[0,0.2,0.4,0.6,0.8,1],"format":".1f"}}}},
{"data":{"name":"roc"},"transform":[{"filter":"datum.p == 8"}],"mark":{"type":"line","strokeWidth":1.3},"encoding":{"x":{"field":"x","type":"quantitative","title":"False positive rate (α)","axis":{"values":[0,0.2,0.4,0.6,0.8,1],"format":".1f"}},"y":{"field":"y","type":"quantitative","title":"True positive rate (Power)","axis":{"values":[0,0.2,0.4,0.6,0.8,1],"format":".1f"}},"color":{"field":"s","type":"nominal","scale":{"domain":["B","T","L"],"range":["#2a2a2a","#8c8c8c","#c6c6c6"]},"legend":{"title":["SLD: N = 500, J = 50,"," μₗ = 0.7 (δₚq = 0.66)"],"labelExpr":"datum.value == 'B' ? 'Bifactor Sᵦ' : datum.value == 'T' ? 'Threshold shift Sₜ' : 'LD X²'"}}}}
]},
{"width":188,"height":106,"layer":[
{"data":{"name":"diag"},"mark":{"type":"line","color":"#333333","strokeWidth":0.8,"strokeDash":[2,1.5]},"encoding":{"x":{"field":"x","type":"quantitative","scale":{"domain":[0,1]},"title":"False positive rate (α)","axis":{"values":[0,0.2,0.4,0.6,0.8,1],"format":".1f"}},"y":{"field":"y","type":"quantitative","scale":{"domain":[0,1]},"title":"True positive rate (Power)","axis":{"values":[0,0.2,0.4,0.6,0.8,1],"format":".1f"}}}},
{"data":{"name":"roc"},"transform":[{"filter":"datum.p == 9"}],"mark":{"type":"line","strokeWidth":1.3},"encoding":{"x":{"field":"x","type":"quantitative","title":"False positive rate (α)","axis":{"values":[0,0.2,0.4,0.6,0.8,1],"format":".1f"}},"y":{"field":"y","type":"quantitative","title":"True positive rate (Power)","axis":{"values":[0,0.2,0.4,0.6,0.8,1],"format":".1f"}},"color":{"field":"s","type":"nominal","scale":{"domain":["B","T","L"],"range":["#2a2a2a","#8c8c8c","#c6c6c6"]},"legend":{"title":["SLD: N = 1000, J = 50,"," μₗ = 0.7 (δₚq = 0.66)"],"labelExpr":"datum.value == 'B' ? 'Bifactor Sᵦ' : datum.value == 'T' ? 'Threshold shift Sₜ' : 'LD X²'"}}}}
]}
]}
]
}
